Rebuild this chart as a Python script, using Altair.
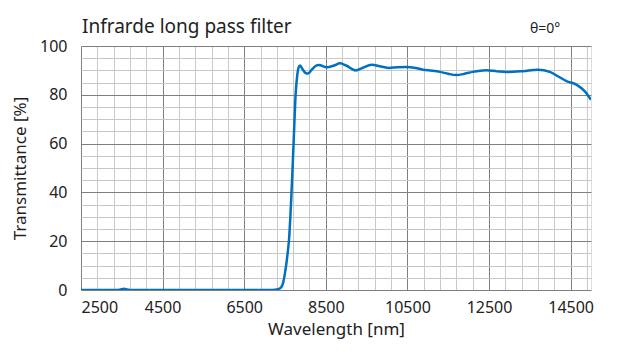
import altair as alt
import pandas as pd

wavelength = [2500, 3300, 3450, 3550, 3650, 3800, 7200, 7300, 7400, 7450, 7500, 7550,
              7600, 7660, 7710, 7760, 7800, 7840, 7870, 7930, 8000, 8060, 8150, 8250,
              8330, 8520, 8700, 8850, 9000, 9235, 9400, 9620, 9850, 10050, 10250, 10480,
              10700, 10880, 11100, 11300, 11500, 11700, 11900, 12100, 12430, 12700, 12930,
              13330, 13700, 13990, 14200, 14400, 14640, 14850, 15000]
transmittance = [0, 0, 0.1, 0.5, 0.1, 0, 0, 0.2, 1, 2.7, 7, 13,
                 21, 40, 60, 80, 88, 91.5, 92, 90.5, 89, 88.7, 90.2, 91.8,
                 92.2, 91.3, 92, 92.9, 92, 90, 91, 92.3, 91.6, 91.0, 91.3, 91.4,
                 91, 90.3, 89.9, 89.4, 88.6, 88.1, 88.6, 89.4, 90.1, 89.6, 89.3,
                 89.7, 90.3, 89.4, 87.5, 85.6, 84.2, 81.4, 78]

x_ticks = list(range(2500, 15000, 400))
y_ticks = list(range(0, 101, 5))

title_text = "Infrarde long pass filter"
angle_text = "θ=0°"
x_title = "Wavelength [nm]"
y_title = "Transmittance [%]"

df = pd.DataFrame({"wl": wavelength, "t": transmittance})

FONT = "Noto Sans"
MAJOR = "#7f7f7f"
MINOR = "#c8c8c8"
TXT = "#222222"

x_axis = alt.Axis(
    values=x_ticks,
    labelExpr="datum.value % 2000 === 500 ? datum.value : ''",
    grid=True,
    gridColor={"condition": {"test": "datum.value % 2000 === 500", "value": MAJOR}, "value": MINOR},
    gridWidth=1,
    ticks=False,
    domain=False,
    labelFont=FONT, labelFontSize=16, labelColor=TXT, labelPadding=9,
    labelOverlap=False,
    title=x_title, titleFont=FONT, titleFontSize=17, titleFontWeight="normal",
    titleColor=TXT, titlePadding=6,
)
y_axis = alt.Axis(
    values=y_ticks,
    labelExpr="datum.value % 20 === 0 ? datum.value : ''",
    grid=True,
    gridColor={"condition": {"test": "datum.value % 20 === 0", "value": MAJOR}, "value": MINOR},
    gridWidth=1,
    ticks=False,
    domain=False,
    labelFont=FONT, labelFontSize=16, labelColor=TXT, labelPadding=14,
    labelOverlap=False,
    title=y_title, titleFont=FONT, titleFontSize=17, titleFontWeight="normal",
    titleColor=TXT, titlePadding=10,
)

line = alt.Chart(df).mark_line(color="#0070c0", strokeWidth=2.5, interpolate="monotone", clip=True).encode(
    x=alt.X("wl:Q", scale=alt.Scale(domain=[2500, 15000], nice=False, zero=False), axis=x_axis),
    y=alt.Y("t:Q", scale=alt.Scale(domain=[0, 100], nice=False), axis=y_axis),
)

title = alt.Chart(pd.DataFrame({"txt": [title_text]})).mark_text(
    font=FONT, fontSize=19, color=TXT, align="left", baseline="alphabetic"
).encode(text="txt:N", x=alt.value(1), y=alt.value(-13))

label = alt.Chart(pd.DataFrame({"txt": [angle_text]})).mark_text(
    font=FONT, fontSize=14, color=TXT, align="left", baseline="alphabetic"
).encode(text="txt:N", x=alt.value(449), y=alt.value(-13))

chart = alt.layer(line, title, label).properties(
    width=510, height=244,
    autosize=alt.AutoSizeParams(type="none"),
    padding={"left": 81, "top": 46, "right": 33, "bottom": 62},
).configure_view(stroke="#000000", strokeWidth=1.5).configure(background="white")

chart.save("out.html", embed_options={"renderer": "svg", "actions": False})
